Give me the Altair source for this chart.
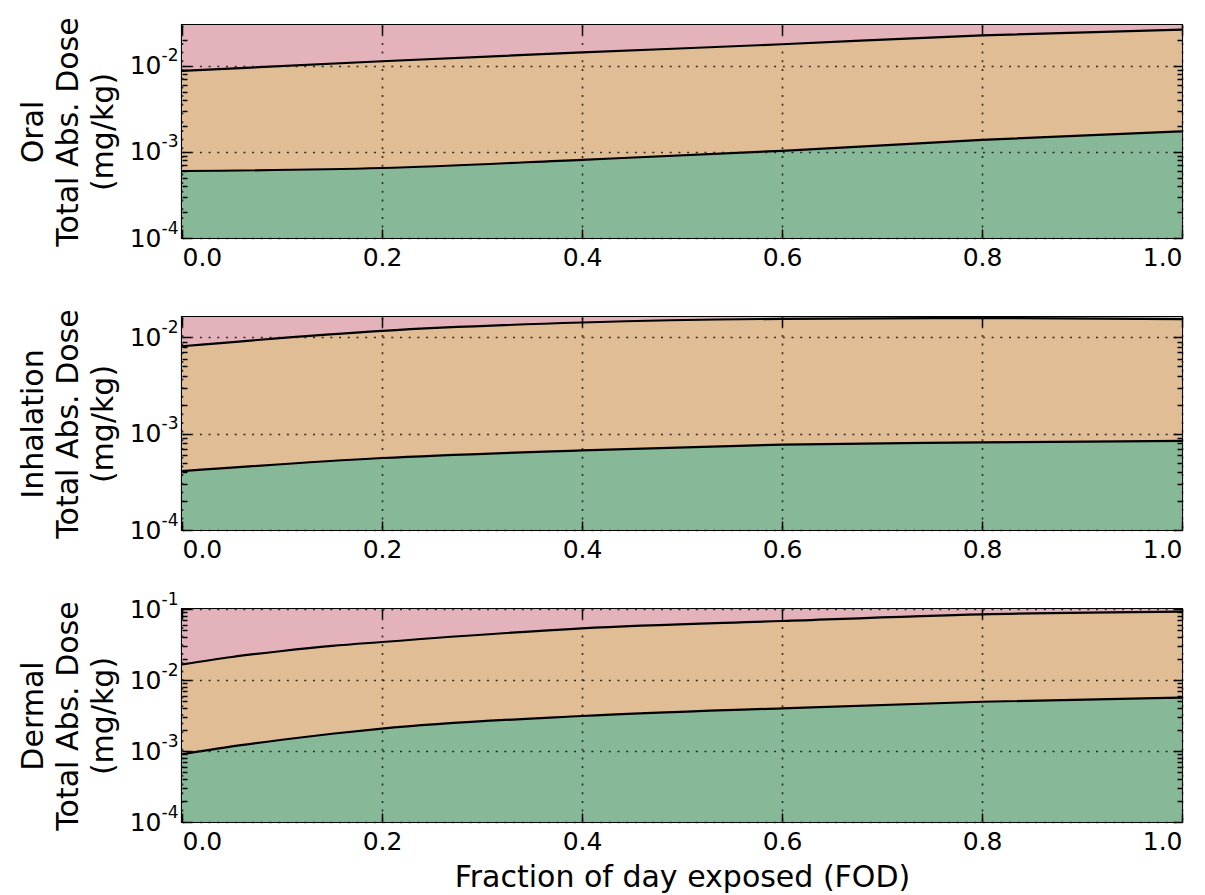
import altair as alt
import pandas as pd

# Fraction of day exposed (x) and the two boundary curves of each route (mg/kg)
fod = [0.0, 0.2, 0.4, 0.6, 0.8, 1.0]

oral_low = [6.0e-4, 6.5e-4, 8.1e-4, 1.03e-3, 1.38e-3, 1.73e-3]
oral_up = [8.75e-3, 1.13e-2, 1.43e-2, 1.78e-2, 2.26e-2, 2.63e-2]

inh_low = [4.08e-4, 5.58e-4, 6.7e-4, 7.68e-4, 8.1e-4, 8.4e-4]
inh_up = [8.05e-3, 1.164e-2, 1.42e-2, 1.55e-2, 1.58e-2, 1.54e-2]

# the dermal curves bend sharply near zero, so they carry extra early samples
fod_derm = [0.0, 0.05, 0.1, 0.15, 0.2, 0.4, 0.6, 0.8, 1.0]
derm_low = [9.0e-4, 1.16e-3, 1.44e-3, 1.75e-3, 2.07e-3, 3.11e-3, 3.99e-3,
            4.94e-3, 5.64e-3]
derm_up = [1.66e-2, 2.11e-2, 2.56e-2, 3.02e-2, 3.43e-2, 5.34e-2, 6.78e-2,
           8.42e-2, 9.16e-2]

routes = ["Oral", "Inhalation", "Dermal"]
y_tops = [0.0298, 0.0162, 0.1]
x_ticks = [0.0, 0.2, 0.4, 0.6, 0.8, 1.0]
FLOOR = 1e-4

GREEN = "#87b998"
TAN = "#e1bd96"
PINK = "#e3b2ba"
FONT = "DejaVu Sans"

W, H = 1000, 213
DECADE_TEST = "abs(log(datum.value)/LN10 - round(log(datum.value)/LN10)) < 1e-6"
# power-of-ten labels: base and raised exponent are drawn as two label sets
EXPONENT = "'-' + round(-log(datum.value)/LN10)"


def log_ticks(top):
    vals = []
    for e in range(-4, 0):
        for m in range(1, 10):
            v = m * 10.0 ** e
            if v <= top * 1.0001:
                vals.append(v)
    return vals


def decades(top):
    return [10.0 ** e for e in range(-4, 0) if 10.0 ** e <= top * 1.0001]


def panel(route, xvals, low, up, top, last):
    df = pd.DataFrame({"fod": xvals, "low": low, "up": up,
                       "floor": FLOOR, "ceil": top})
    xs = alt.Scale(domain=[0, 1], nice=False, zero=False)
    ys = alt.Scale(type="log", domain=[FLOOR, top], nice=False, clamp=True)
    base = alt.Chart(df)

    grid_style = dict(grid=True, gridColor="#1a1a1a", gridWidth=1.6,
                      gridDash=[2, 6.7], gridOpacity=0.9)

    x_main = alt.Axis(values=x_ticks, format=".1f", ticks=False, domain=False,
                      labelPadding=7, labelFontSize=25, labelFont=FONT,
                      labelColor="black", titleFont=FONT, titleFontSize=30,
                      titleFontWeight="normal", titleColor="black",
                      titlePadding=8, zindex=1, **grid_style)
    y_main = alt.Axis(values=decades(top), labelExpr="'10'", ticks=False,
                      domain=False, labelPadding=21, labelFontSize=25,
                      labelFont=FONT, labelColor="black",
                      titleFont=FONT, titleFontSize=30, titleFontWeight="normal",
                      titleColor="black", titlePadding=11, titleLineHeight=35,
                      zindex=1, **grid_style)
    y_exp = alt.Axis(orient="left", values=decades(top), labelExpr=EXPONENT,
                     ticks=False, domain=False, grid=False, labelPadding=4,
                     labelFontSize=17, labelFont=FONT, labelColor="black",
                     labelOffset=-10, zindex=1)

    tick_common = dict(labels=False, domain=False, grid=False,
                       tickColor="black", tickWidth=1.5, zindex=2)
    y_size = {"condition": {"test": DECADE_TEST, "value": 9}, "value": 5}
    # ticks drawn inside the frame on all four sides
    x_in_bottom = alt.Axis(orient="top", offset=-H, values=x_ticks,
                           tickSize=9, **tick_common)
    x_in_top = alt.Axis(orient="bottom", offset=-H, values=x_ticks,
                        tickSize=9, **tick_common)
    y_in_left = alt.Axis(orient="right", offset=-W, values=log_ticks(top),
                         tickSize=y_size, **tick_common)
    y_in_right = alt.Axis(orient="left", offset=-W, values=log_ticks(top),
                          tickSize=y_size, **tick_common)

    x_title = "Fraction of day exposed (FOD)" if last else ""

    green = base.mark_area(color=GREEN, opacity=1, interpolate="monotone").encode(
        x=alt.X("fod:Q", scale=xs, axis=x_main, title=x_title),
        y=alt.Y("low:Q", scale=ys, axis=y_main,
                title=[route, "Total Abs. Dose", "(mg/kg)"]),
        y2="floor:Q",
    )
    tan = base.mark_area(color=TAN, opacity=1, interpolate="monotone").encode(
        x=alt.X("fod:Q", scale=xs, axis=x_in_bottom, title=""),
        y=alt.Y("up:Q", scale=ys, axis=y_in_left, title=""),
        y2="low:Q",
    )
    pink = base.mark_area(color=PINK, opacity=1, interpolate="monotone").encode(
        x=alt.X("fod:Q", scale=xs, axis=x_in_top, title=""),
        y=alt.Y("ceil:Q", scale=ys, axis=y_in_right, title=""),
        y2="up:Q",
    )
    line_low = base.mark_line(color="black", strokeWidth=2.2,
                              interpolate="monotone").encode(
        x=alt.X("fod:Q", scale=xs, axis=None),
        y=alt.Y("low:Q", scale=ys, axis=y_exp, title=""),
    )
    line_up = base.mark_line(color="black", strokeWidth=2.2,
                             interpolate="monotone").encode(
        x=alt.X("fod:Q", scale=xs, axis=None),
        y=alt.Y("up:Q", scale=ys, axis=None),
    )
    return (
        alt.layer(green, tan, pink, line_low, line_up)
        .resolve_axis(x="independent", y="independent")
        .properties(width=W, height=H)
    )


charts = [
    panel("Oral", fod, oral_low, oral_up, y_tops[0], False),
    panel("Inhalation", fod, inh_low, inh_up, y_tops[1], False),
    panel("Dermal", fod_derm, derm_low, derm_up, y_tops[2], True),
]

chart = (
    alt.vconcat(*charts, spacing=79, bounds="flush")
    .properties(padding={"left": 17, "top": 15, "right": 10, "bottom": 0},
                background="white")
    .configure_view(stroke="black", strokeWidth=2.2)
)

chart.save("out.html", embed_options={"renderer": "svg", "actions": False})
